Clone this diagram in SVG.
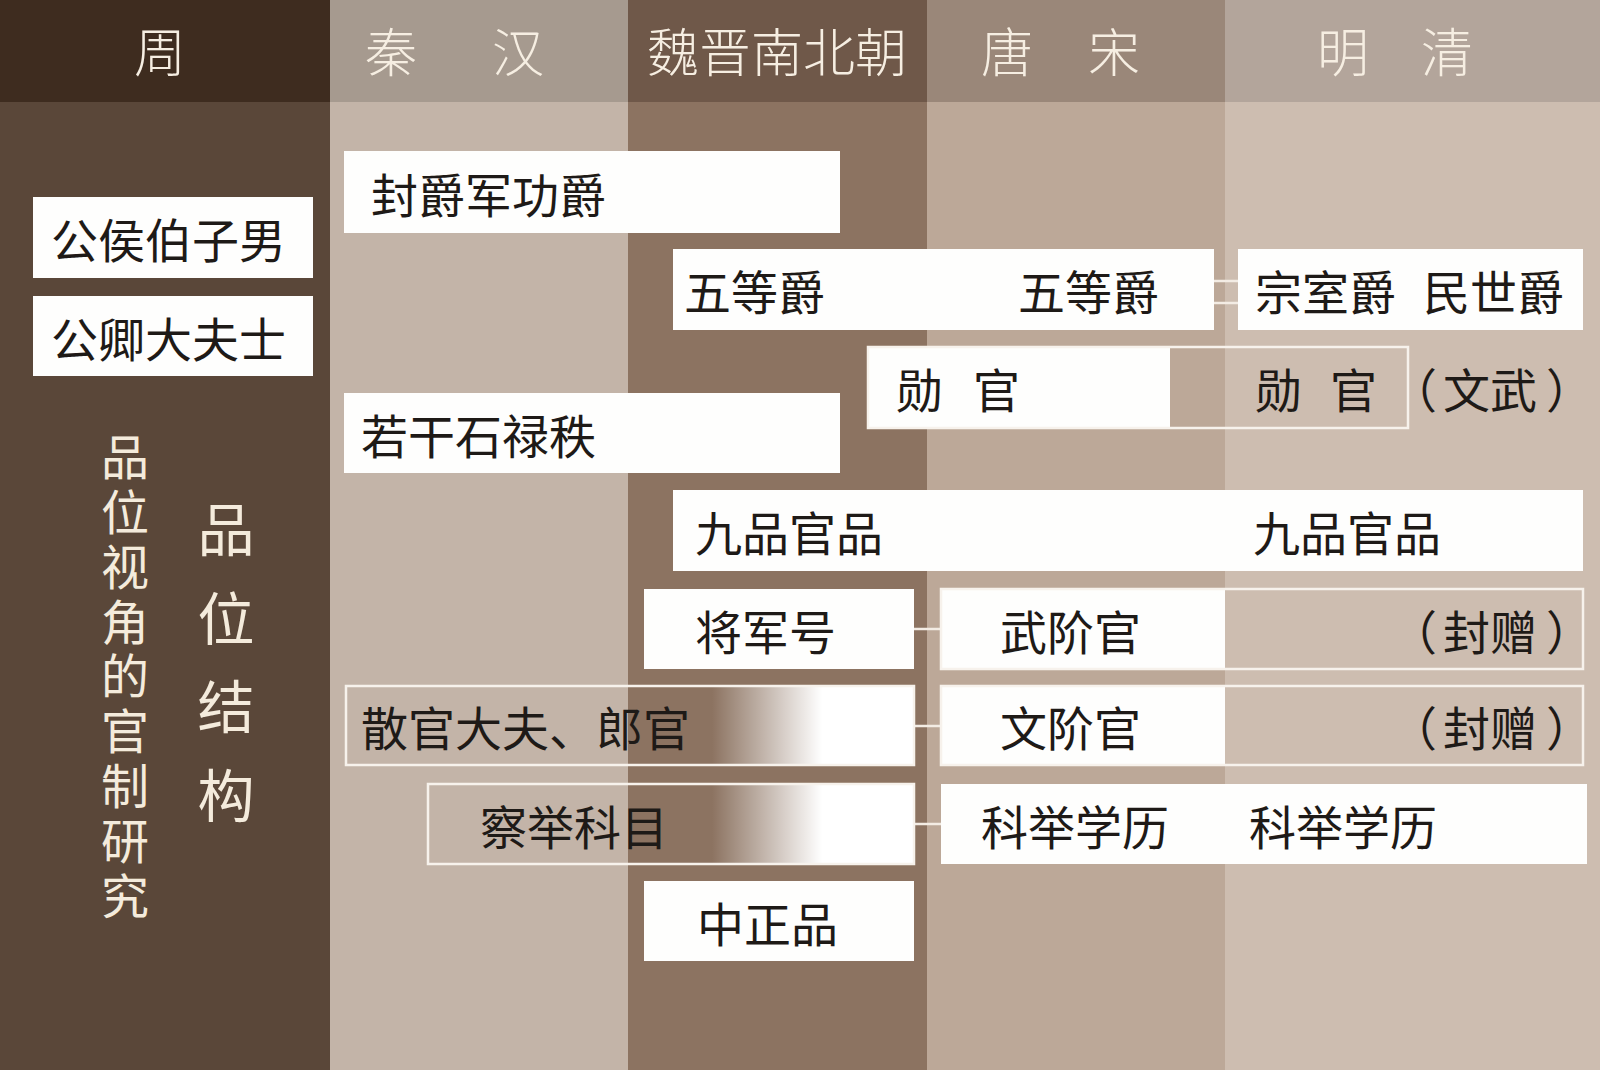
<svg xmlns="http://www.w3.org/2000/svg" width="1600" height="1070" viewBox="0 0 1600 1070">
<defs>
<style>
.hd{font-family:"Noto Sans CJK SC","Noto Sans",sans-serif;font-size:52px;font-weight:300;fill:#f6eee2;text-anchor:middle;dominant-baseline:central}
.t{font-family:"Noto Sans CJK SC","Noto Sans",sans-serif;font-size:47px;fill:#1e1a17;dominant-baseline:central}
.v{font-family:"Noto Sans CJK SC","Noto Sans",sans-serif;fill:#f4ebdc;writing-mode:vertical-rl;text-orientation:upright}
.box{fill:#fefefd}
.ol{fill:none;stroke:#f7f2ec;stroke-width:2.5}
.cn{stroke:#f3ece4;stroke-width:2.5;fill:none}
</style>
<linearGradient id="fade" gradientUnits="userSpaceOnUse" x1="712" y1="0" x2="822" y2="0">
<stop offset="0" stop-color="#ffffff" stop-opacity="0"/>
<stop offset="1" stop-color="#ffffff" stop-opacity="1"/>
</linearGradient>
</defs>

<g id="columns">
<rect x="0" y="0" width="330" height="1070" fill="#5a4739"/>
<rect x="330" y="0" width="298" height="1070" fill="#c3b4a8"/>
<rect x="628" y="0" width="299" height="1070" fill="#8c7361"/>
<rect x="927" y="0" width="298" height="1070" fill="#bca898"/>
<rect x="1225" y="0" width="375" height="1070" fill="#cdbdb0"/>
<rect x="0" y="0" width="330" height="102" fill="#3e2c1f"/>
<rect x="330" y="0" width="298" height="102" fill="#a69a8f"/>
<rect x="628" y="0" width="299" height="102" fill="#6f5849"/>
<rect x="927" y="0" width="298" height="102" fill="#9a8779"/>
<rect x="1225" y="0" width="375" height="102" fill="#b3a59b"/>
</g>

<g id="headers">
<text class="hd" x="160" y="49">周</text>
<text class="hd" x="391" y="49">秦</text>
<text class="hd" x="518" y="49">汉</text>
<text class="hd" x="777" y="49">魏晋南北朝</text>
<text class="hd" x="1007" y="49">唐</text>
<text class="hd" x="1114" y="49">宋</text>
<text class="hd" x="1343" y="49">明</text>
<text class="hd" x="1447" y="49">清</text>
</g>

<g id="title-vertical">
<text class="v" x="125" y="433" font-size="48" letter-spacing="6.8">品位视角的官制研究</text>
<text class="v" x="226" y="501" font-size="57" letter-spacing="31.5">品位结构</text>
</g>

<g id="connectors">
<line class="cn" x1="1214" y1="281" x2="1238" y2="281"/>
<line class="cn" x1="1214" y1="303" x2="1238" y2="303"/>
<line class="cn" x1="914" y1="629" x2="941" y2="629"/>
<line class="cn" x1="914" y1="726" x2="941" y2="726"/>
<line class="cn" x1="914" y1="824" x2="941" y2="824"/>
</g>

<g id="n-gonghou">
<rect class="box" x="33" y="197" width="280" height="81"/>
<text class="t" x="51" y="237.5">公侯伯子男</text>
</g>
<g id="n-gongqing">
<rect class="box" x="33" y="296" width="280" height="80"/>
<text class="t" x="51" y="336">公卿大夫士</text>
</g>
<g id="n-fengjue">
<rect class="box" x="344" y="151" width="496" height="82"/>
<text class="t" x="371" y="192">封爵军功爵</text>
</g>
<g id="n-wudengjue">
<rect class="box" x="673" y="249" width="541" height="81"/>
<text class="t" x="684" y="289.5">五等爵</text>
<text class="t" x="1018" y="289.5">五等爵</text>
</g>
<g id="n-zongshijue">
<rect class="box" x="1238" y="249" width="345" height="81"/>
<text class="t" x="1255" y="289.5">宗室爵</text>
<text class="t" x="1423" y="289.5">民世爵</text>
</g>
<g id="n-xunguan">
<rect class="box" x="868" y="347" width="302" height="81"/>
<rect class="ol" x="868" y="347" width="540" height="81"/>
<text class="t" x="896" y="387.5">勋</text>
<text class="t" x="973" y="387.5">官</text>
<text class="t" x="1255" y="387.5">勋</text>
<text class="t" x="1330" y="387.5">官</text>
<text class="t" x="1390" y="387.5">（</text>
<text class="t" x="1443" y="387.5">文武</text>
<text class="t" x="1546" y="387.5">）</text>
</g>
<g id="n-ruoganshi">
<rect class="box" x="344" y="393" width="496" height="80"/>
<text class="t" x="361" y="433">若干石禄秩</text>
</g>
<g id="n-jiupin">
<rect class="box" x="673" y="490" width="910" height="81"/>
<text class="t" x="695" y="530.5">九品官品</text>
<text class="t" x="1253" y="530.5">九品官品</text>
</g>
<g id="n-jiangjunhao">
<rect class="box" x="644" y="589" width="270" height="80"/>
<text class="t" x="695" y="629">将军号</text>
</g>
<g id="n-wujieguan">
<rect class="box" x="941" y="589" width="284" height="80"/>
<rect class="ol" x="941" y="589" width="642" height="80"/>
<text class="t" x="1000" y="629">武阶官</text>
<text class="t" x="1390" y="629">（</text>
<text class="t" x="1443" y="629">封赠</text>
<text class="t" x="1546" y="629">）</text>
</g>
<g id="n-sanguan">
<rect fill="url(#fade)" x="346" y="686" width="568" height="79"/>
<rect class="ol" x="346" y="686" width="568" height="79"/>
<text class="t" x="361" y="725.5">散官大夫、郎官</text>
</g>
<g id="n-wenjieguan">
<rect class="box" x="941" y="686" width="284" height="79"/>
<rect class="ol" x="941" y="686" width="642" height="79"/>
<text class="t" x="1000" y="725.5">文阶官</text>
<text class="t" x="1390" y="725.5">（</text>
<text class="t" x="1443" y="725.5">封赠</text>
<text class="t" x="1546" y="725.5">）</text>
</g>
<g id="n-chaju">
<rect fill="url(#fade)" x="428" y="784" width="486" height="80"/>
<rect class="ol" x="428" y="784" width="486" height="80"/>
<text class="t" x="480" y="824">察举科目</text>
</g>
<g id="n-keju">
<rect class="box" x="941" y="784" width="646" height="80"/>
<text class="t" x="981" y="824">科举学历</text>
<text class="t" x="1249" y="824">科举学历</text>
</g>
<g id="n-zhongzheng">
<rect class="box" x="644" y="881" width="270" height="80"/>
<text class="t" x="697" y="921">中正品</text>
</g>
</svg>
